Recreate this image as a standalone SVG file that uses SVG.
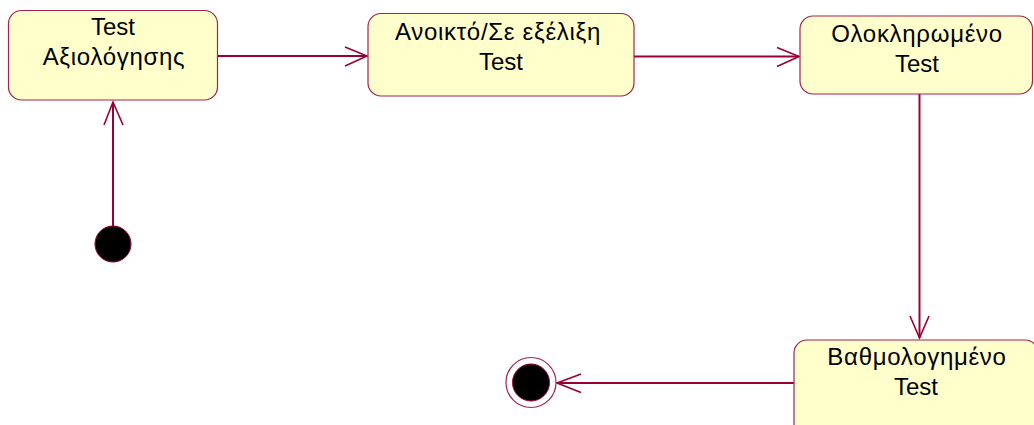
<svg xmlns="http://www.w3.org/2000/svg" width="1034" height="425" viewBox="0 0 1034 425">
  <defs>
    <style>
      .state { fill: #ffffcc; stroke: #a3234f; stroke-width: 1.2; }
      .label { font-family: "Liberation Sans", Arial, sans-serif; font-size: 24px; fill: #000; text-anchor: middle; }
      .gr { letter-spacing: 0.7px; }
      .conn { stroke: #990033; stroke-width: 2; fill: none; }
      .head { stroke: #990033; stroke-width: 1.6; fill: none; }
    </style>
  </defs>
  <rect width="1034" height="425" fill="#ffffff"/>
  <g id="connectors">
    <line class="conn" x1="113" y1="226" x2="113" y2="102"/>
    <polyline class="head" points="104,125 113,102 123,125"/>
    <line class="conn" x1="218" y1="56" x2="367" y2="56"/>
    <polyline class="head" points="345,47 367,56 345,66"/>
    <line class="conn" x1="634" y1="56.5" x2="799" y2="56.5"/>
    <polyline class="head" points="777,47.5 799,56.5 777,66.5"/>
    <line class="conn" x1="919.5" y1="94" x2="919.5" y2="338"/>
    <polyline class="head" points="910,316 919.5,338 929,316"/>
    <line class="conn" x1="794" y1="383" x2="557" y2="383"/>
    <polyline class="head" points="581,374 557,383 581,392.5"/>
  </g>
  <g id="initial">
    <circle cx="113" cy="244" r="18" fill="#000" stroke="#990033" stroke-width="1"/>
  </g>
  <g id="node-test-axiologisis">
    <rect class="state" x="8.5" y="10.5" width="209" height="89.5" rx="13"/>
    <text class="label" x="113" y="35">Test</text>
    <text class="label gr" x="114" y="65">Αξιολόγησης</text>
  </g>
  <g id="node-anoikto">
    <rect class="state" x="368" y="13.5" width="266" height="82.5" rx="13"/>
    <text class="label gr" x="498" y="40">Ανοικτό/Σε εξέλιξη</text>
    <text class="label" x="501" y="70">Test</text>
  </g>
  <g id="node-oloklirwmeno">
    <rect class="state" x="800" y="16" width="232.5" height="78" rx="13"/>
    <text class="label gr" x="917" y="42">Ολοκληρωμένο</text>
    <text class="label" x="917" y="72">Test</text>
  </g>
  <g id="node-vathmologimeno">
    <rect class="state" x="794" y="340" width="244" height="100" rx="13"/>
    <text class="label gr" x="917" y="365">Βαθμολογημένο</text>
    <text class="label" x="916" y="395">Test</text>
  </g>
  <g id="final">
    <circle cx="531" cy="382.5" r="25" fill="#ffffff" stroke="#a3234f" stroke-width="1.2"/>
    <circle cx="531" cy="382.5" r="18.5" fill="#000" stroke="#990033" stroke-width="1"/>
  </g>
</svg>
